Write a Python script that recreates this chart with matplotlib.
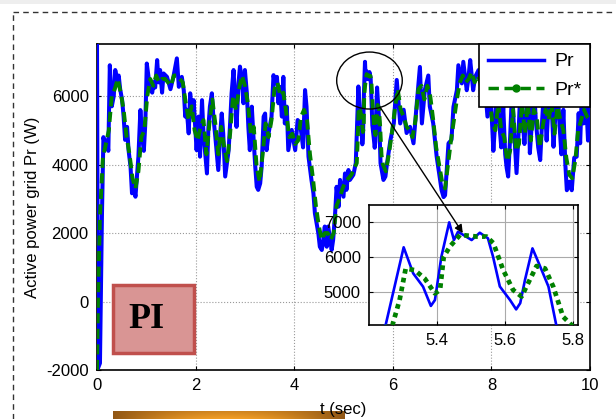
import matplotlib
matplotlib.use("Agg")
import matplotlib.pyplot as plt
import numpy as np
from matplotlib.lines import Line2D
from matplotlib.patches import ConnectionPatch, Ellipse, Rectangle

pr_points = [
    (0.00, 7600), (0.02, -1950), (0.06, -1800), (0.10, 2500), (0.13, 4800),
    (0.17, 4500), (0.20, 4700), (0.23, 4400), (0.26, 6900), (0.30, 5700),
    (0.34, 6000), (0.37, 6760), (0.41, 6470), (0.44, 6600), (0.47, 6200),
    (0.51, 5880), (0.54, 5400), (0.57, 4720), (0.61, 5100), (0.64, 4420),
    (0.68, 3940), (0.71, 3160), (0.74, 3450), (0.78, 3060), (0.81, 3650),
    (0.84, 4230), (0.88, 5590), (0.91, 4900), (0.95, 4400), (0.98, 5200),
    (1.01, 6950), (1.05, 6500), (1.08, 6200), (1.12, 6100), (1.15, 6400),
    (1.18, 6250), (1.22, 7050), (1.25, 6400), (1.28, 6760), (1.32, 6100),
    (1.35, 6660), (1.42, 6560), (1.49, 6200), (1.55, 6560), (1.62, 7100),
    (1.66, 6270), (1.72, 6560), (1.76, 6170), (1.79, 5400), (1.82, 5600),
    (1.86, 4910), (1.89, 6080), (1.93, 5400), (1.96, 5880), (2.02, 4420),
    (2.06, 5400), (2.09, 4230), (2.13, 5880), (2.16, 4910), (2.23, 3740),
    (2.26, 5100), (2.29, 5690), (2.33, 6080), (2.36, 5400), (2.40, 4810),
    (2.46, 3840), (2.50, 4910), (2.53, 5490), (2.56, 4910), (2.60, 3650),
    (2.67, 4420), (2.70, 5200), (2.73, 6080), (2.77, 6760), (2.80, 5880),
    (2.83, 5100), (2.87, 6370), (2.90, 6860), (2.94, 6470), (2.97, 5790),
    (3.00, 6760), (3.04, 6080), (3.07, 5100), (3.10, 4420), (3.14, 5690),
    (3.17, 4910), (3.21, 3940), (3.24, 3350), (3.27, 3260), (3.31, 3450),
    (3.34, 3940), (3.38, 5400), (3.41, 5490), (3.44, 4420), (3.48, 4910),
    (3.54, 5400), (3.58, 6610), (3.61, 6370), (3.65, 6560), (3.68, 5790),
    (3.71, 6270), (3.75, 5400), (3.78, 6560), (3.81, 5200), (3.85, 5690),
    (3.88, 4420), (3.95, 5010), (4.02, 4420), (4.07, 5300), (4.12, 5200),
    (4.18, 4500), (4.22, 6175), (4.25, 5690), (4.29, 4230), (4.35, 3550),
    (4.39, 3160), (4.42, 2575), (4.49, 1990), (4.52, 1600), (4.56, 1505),
    (4.59, 1800), (4.62, 2190), (4.66, 1600), (4.69, 2190), (4.76, 1505),
    (4.79, 1800), (4.83, 2575), (4.86, 3350), (4.90, 2770), (4.93, 3550),
    (5.00, 3060), (5.03, 3740), (5.06, 3260), (5.10, 3840), (5.13, 3550),
    (5.20, 3700), (5.249, 4040), (5.302, 6280), (5.33, 5530), (5.359, 5146),
    (5.382, 4590), (5.394, 4760), (5.413, 6010), (5.436, 7000), (5.45, 6490),
    (5.462, 6730), (5.502, 6490), (5.526, 6700), (5.55, 6540), (5.565, 6010),
    (5.585, 5150), (5.615, 4760), (5.633, 4490), (5.645, 4670), (5.659, 5340),
    (5.681, 6250), (5.704, 5720), (5.728, 5150), (5.751, 4040), (5.81, 3550),
    (5.85, 3650), (5.88, 4000), (5.95, 4700), (6.02, 5200), (6.08, 6470),
    (6.15, 5200), (6.22, 5600), (6.28, 4920), (6.35, 5100), (6.42, 4620),
    (6.48, 5680), (6.55, 6850), (6.59, 5200), (6.65, 6180), (6.72, 6600),
    (6.75, 5700), (6.82, 5200), (6.89, 4230), (6.92, 3930), (6.99, 3250),
    (7.03, 3050), (7.06, 3100), (7.09, 3750), (7.13, 4620), (7.19, 4720),
    (7.23, 5680), (7.30, 6170), (7.33, 6900), (7.40, 6370), (7.43, 7000),
    (7.50, 6170), (7.53, 6470), (7.57, 7050), (7.63, 6170), (7.67, 6560),
    (7.74, 6760), (7.80, 6170), (7.84, 6760), (7.87, 6300), (7.92, 5400),
    (7.96, 6500), (8.00, 5600), (8.04, 4400), (8.08, 5300), (8.12, 6400),
    (8.16, 5200), (8.20, 4500), (8.24, 5700), (8.28, 4300), (8.31, 3900),
    (8.34, 3650), (8.38, 4800), (8.42, 6200), (8.46, 5000), (8.51, 3750),
    (8.55, 4900), (8.59, 6300), (8.63, 5400), (8.67, 4600), (8.71, 5600),
    (8.75, 6500), (8.78, 4330), (8.82, 5200), (8.86, 6400), (8.90, 5300),
    (8.95, 4500), (8.99, 4130), (9.03, 5300), (9.07, 6300), (9.12, 4700),
    (9.16, 5800), (9.20, 6400), (9.26, 4520), (9.30, 5500), (9.34, 6300),
    (9.38, 5200), (9.42, 4300), (9.46, 5600), (9.50, 4000), (9.53, 3250),
    (9.58, 3500), (9.63, 3250), (9.68, 4200), (9.73, 4230), (9.77, 5500),
    (9.80, 4620), (9.84, 6300), (9.87, 5200), (9.92, 5900), (9.96, 4700),
    (10.0, 5680),
]

# reference power Pr* (W): (t, value)
pr_ref_points = [
    (0.00, -2000), (0.02, 0), (0.06, 2500), (0.12, 4200), (0.18, 4600),
    (0.24, 5000), (0.30, 6000), (0.36, 6200), (0.42, 6500), (0.48, 6100),
    (0.54, 5600), (0.60, 4800), (0.66, 4300), (0.72, 3600), (0.78, 3300),
    (0.84, 3800), (0.90, 4800), (0.96, 5000), (1.02, 6000), (1.08, 6500),
    (1.14, 6300), (1.20, 6600), (1.26, 6400), (1.32, 6500), (1.38, 6500),
    (1.44, 6400), (1.50, 6300), (1.56, 6600), (1.62, 6600), (1.68, 6500),
    (1.74, 6400), (1.80, 5800), (1.86, 5300), (1.92, 5700), (1.98, 5000),
    (2.04, 4700), (2.10, 5100), (2.16, 5300), (2.22, 4300), (2.28, 5200),
    (2.34, 5900), (2.40, 5200), (2.46, 4300), (2.52, 5100), (2.58, 4500),
    (2.64, 4100), (2.70, 4900), (2.76, 6000), (2.82, 5600), (2.88, 6200),
    (2.94, 6600), (3.00, 6300), (3.06, 5800), (3.12, 4900), (3.18, 5100),
    (3.24, 3900), (3.30, 3500), (3.36, 4300), (3.42, 5200), (3.48, 4800),
    (3.54, 5300), (3.60, 6200), (3.66, 6400), (3.72, 6000), (3.78, 6100),
    (3.84, 5500), (3.90, 4800), (3.96, 4900), (4.02, 4600), (4.08, 4700),
    (4.14, 5400), (4.20, 5600), (4.26, 5300), (4.32, 4300), (4.38, 3600),
    (4.44, 2800), (4.50, 2200), (4.56, 1800), (4.62, 2000), (4.68, 2000),
    (4.74, 1800), (4.80, 2000), (4.86, 2800), (4.92, 3000), (4.98, 3300),
    (5.04, 3500), (5.10, 3600), (5.16, 3700), (5.22, 3900), (5.269, 4040),
    (5.29, 4760), (5.308, 5670), (5.335, 5620), (5.364, 5380), (5.394, 4950),
    (5.409, 5050), (5.42, 6010), (5.438, 6300), (5.468, 6640), (5.517, 6590),
    (5.546, 6590), (5.566, 6400), (5.595, 5620), (5.624, 5050), (5.649, 4860),
    (5.673, 5340), (5.693, 5740), (5.718, 5670), (5.742, 5150), (5.771, 4280),
    (5.80, 4000), (5.86, 3800), (5.92, 4300), (5.98, 4900), (6.04, 5600),
    (6.10, 6200), (6.16, 5600), (6.22, 5400), (6.28, 5100), (6.34, 5000),
    (6.40, 4800), (6.46, 5300), (6.52, 6200), (6.58, 6300), (6.64, 5900),
    (6.70, 6300), (6.76, 6000), (6.82, 5300), (6.88, 4500), (6.94, 4000),
    (7.00, 3500), (7.06, 3300), (7.12, 4000), (7.18, 4700), (7.24, 5300),
    (7.30, 5900), (7.36, 6400), (7.42, 6600), (7.48, 6400), (7.54, 6500),
    (7.60, 6700), (7.66, 6400), (7.72, 6600), (7.78, 6400), (7.84, 6500),
    (7.90, 6000), (7.96, 6000), (8.02, 5200), (8.08, 5000), (8.14, 5800),
    (8.20, 5000), (8.26, 4800), (8.32, 4100), (8.38, 4400), (8.44, 5600),
    (8.50, 4400), (8.56, 4600), (8.62, 5800), (8.68, 4900), (8.74, 5800),
    (8.80, 4700), (8.86, 5600), (8.92, 5400), (8.98, 4500), (9.04, 5100),
    (9.10, 5600), (9.16, 5300), (9.22, 5800), (9.28, 4900), (9.34, 5700),
    (9.40, 5300), (9.46, 5000), (9.52, 4200), (9.58, 3700), (9.64, 3600),
    (9.70, 4100), (9.76, 5000), (9.82, 5300), (9.88, 5600), (9.94, 5400),
    (10.0, 5300),
]

x_ticks = [0, 2, 4, 6, 8, 10]
y_ticks = [-2000, 0, 2000, 4000, 6000]
zoom_x_ticks = [5.4, 5.6, 5.8]
zoom_y_ticks = [5000, 6000, 7000]

t_pr, pr = zip(*pr_points)
t_ref, pr_ref = zip(*pr_ref_points)

BLUE = "#0000ff"
GREEN = "#008000"

plt.rcParams["font.family"] = ["Liberation Sans", "DejaVu Sans"]
plt.rcParams["axes.unicode_minus"] = False

fig = plt.figure(figsize=(6.16, 4.19), dpi=100)

# light strip at the top of the page
fig.patches.append(Rectangle((0, 1 - 4 / 419), 1, 4 / 419, transform=fig.transFigure,
                             facecolor="#eeeeee", edgecolor="none", zorder=-5))

# dashed page frame
fig.add_artist(Line2D([13 / 616, 13 / 616], [0, 1 - 12 / 419], color="#333333",
                      lw=1, dashes=(4, 3)))
fig.add_artist(Line2D([13 / 616, 1], [1 - 12 / 419, 1 - 12 / 419], color="#333333",
                      lw=1, dashes=(4, 3)))

# main axes
ax = fig.add_axes([97 / 616, 1 - 370 / 419, 493 / 616, 326 / 419])
ax.plot(t_pr, pr, color=BLUE, lw=2.9, zorder=3)
ax.plot(t_ref, pr_ref, color=GREEN, lw=2.8, dashes=(2.6, 1.4), zorder=4)
ax.set_xlim(0, 10)
ax.set_ylim(-2000, 7520)
ax.set_xticks(x_ticks)
ax.set_yticks(y_ticks)
ax.tick_params(direction="in", top=True, right=True, length=3, labelsize=12,
               pad=6)
ax.grid(True, color="#999999", ls=":", lw=0.8)
for s in ax.spines.values():
    s.set_linewidth(1.2)
ax.set_xlabel("t (sec)", fontsize=12, labelpad=6)
ax.set_ylabel("Active power grid Pr (W)", fontsize=12, labelpad=4)

handles = [
    Line2D([], [], color=BLUE, lw=2.5),
    Line2D([], [], color=GREEN, lw=2.5, dashes=(3, 1.6), marker="o", markersize=5),
]
leg = ax.legend(handles, ["Pr", "Pr*"], loc="upper right", borderaxespad=0,
                fancybox=False, framealpha=1, edgecolor="black", fontsize=14,
                handlelength=2.9, numpoints=1, labelspacing=0.55,
                borderpad=0.45, handletextpad=0.5)
leg.get_frame().set_linewidth(1.2)
leg.set_zorder(10)

# circle around the zoomed region
ax.add_patch(Ellipse((5.527, 6453), 1.33, 1664, fill=False, ec="black", lw=1,
                     zorder=6))

# PI label box
ax.add_patch(Rectangle((0.0325, 0.052), 0.164, 0.2086, transform=ax.transAxes,
                       facecolor="#d99594", edgecolor="#c0504d", lw=2.5, zorder=7))
ax.text(0.10, 0.155, "PI", transform=ax.transAxes, fontsize=26, fontweight="bold",
        family=["Liberation Serif", "DejaVu Serif"], ha="center", va="center",
        zorder=8)

# zoom inset
ax_in = fig.add_axes([369 / 616, 1 - 325 / 419, 209 / 616, 120 / 419])
ax_in.plot(t_pr, pr, color=BLUE, lw=1.9, zorder=3)
ax_in.plot(t_ref, pr_ref, color=GREEN, lw=3.4, dashes=(1, 0.9), zorder=4)
ax_in.set_xlim(5.2, 5.815)
ax_in.set_ylim(4040, 7500)
ax_in.set_xticks(zoom_x_ticks)
ax_in.set_yticks(zoom_y_ticks)
ax_in.tick_params(direction="in", top=True, right=True, length=3, labelsize=12,
                  pad=6)
ax_in.grid(True, color="#aaaaaa", ls="-", lw=0.8)
for s in ax_in.spines.values():
    s.set_linewidth(1.2)

# arrow from circle to inset
arrow = ConnectionPatch(xyA=(5.74, 5680), coordsA=ax.transData,
                        xyB=(5.476, 6690), coordsB=ax_in.transData,
                        arrowstyle="-|>", mutation_scale=12, color="black", lw=1)
arrow.set_zorder(20)
fig.add_artist(arrow)

# golden bar peeking in at the bottom
gold = fig.add_axes([113 / 616, 0, 232 / 616, 8 / 419], zorder=-1)
gx = np.linspace(0, 1, 200)
gy = np.linspace(0, 1, 8)[:, None]
shade = 0.55 + 0.45 * np.sin(np.pi * gx)[None, :] * (0.6 + 0.4 * gy)
rgb = np.stack([0.85 * shade + 0.1, 0.62 * shade, 0.15 * shade], axis=-1)
gold.imshow(np.clip(rgb, 0, 1), aspect="auto", extent=(0, 1, 0, 1))
gold.set_axis_off()

fig.savefig("out.png", dpi=100)
